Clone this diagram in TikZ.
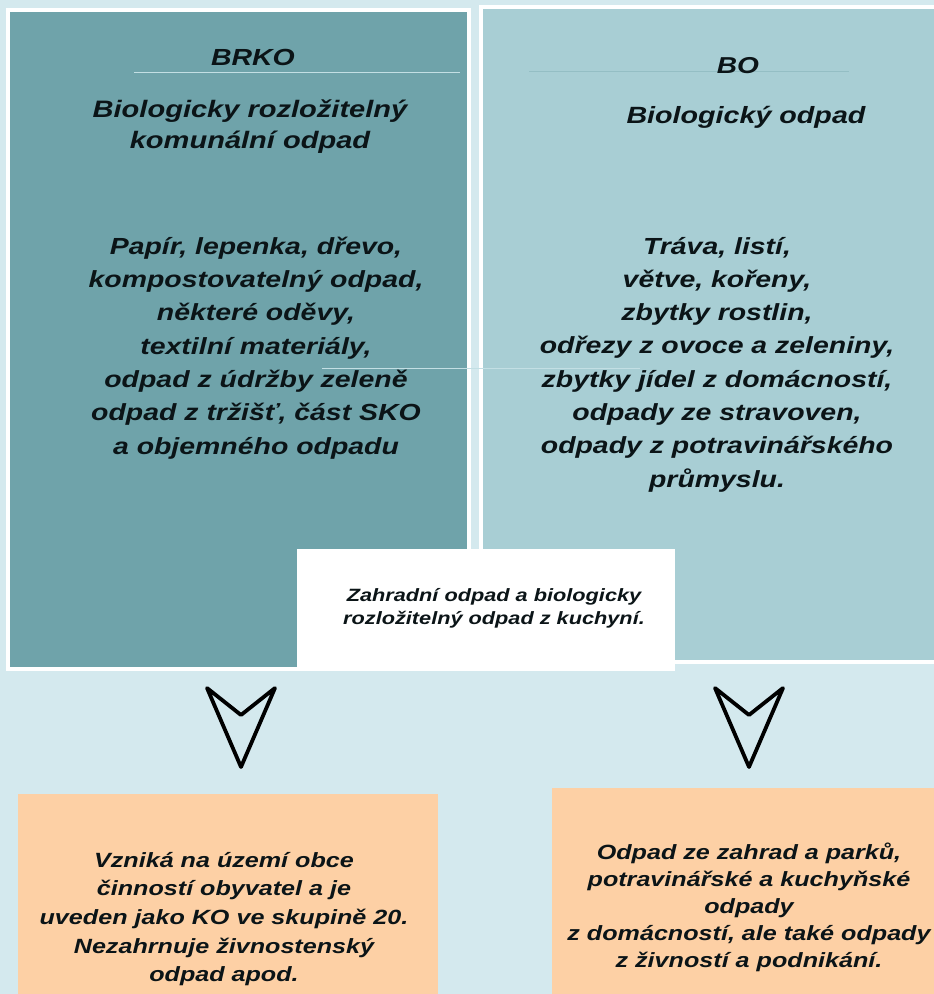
\documentclass[tikz,border=0pt]{standalone}
\usepackage{fontspec}
\setmainfont[FakeStretch=1.22]{Liberation Sans}
\definecolor{bg}{HTML}{D4E9EE}
\definecolor{teal}{HTML}{6FA3AA}
\definecolor{lightteal}{HTML}{A8CED4}
\definecolor{peach}{HTML}{FDD0A5}
\definecolor{ink}{HTML}{0B1417}
\definecolor{rule}{HTML}{C3DFE4}
\definecolor{rulealt}{HTML}{94BEC4}
\tikzset{
  panel/.style={draw=white, line width=4pt},
  txt/.style={text=ink, align=center, inner sep=0pt, font=\bfseries\itshape},
  chevron/.style={draw=black, line width=3.8pt, line join=round},
}
\begin{document}
\begin{tikzpicture}[x=1pt,y=-1pt]
\useasboundingbox (0,0) rectangle (934,994);
\clip (0,0) rectangle (934,994);
\fill[bg] (0,0) rectangle (934,994);
% panels
\draw[panel, fill=teal] (8,10) rectangle (469,669);
\draw[panel, fill=lightteal] (481,7) rectangle (945,662);
\node[fill=white, minimum width=378pt, minimum height=122pt, inner sep=0pt] (mid) at (486,610) {};
\node[fill=peach, minimum width=420pt, minimum height=210pt, inner sep=0pt, anchor=north west] (bl) at (18,794) {};
\node[fill=peach, minimum width=400pt, minimum height=220pt, inner sep=0pt, anchor=north west] (br) at (552,788) {};
% rules
\draw[rule, line width=1pt] (134,72) -- (460,72);
\draw[rulealt, line width=0.8pt] (529,71) -- (849,71);
\draw[rule, line width=1pt] (322,368) -- (640,368);
% top texts
\node[txt, font=\fontsize{23.3}{25}\selectfont\bfseries\itshape] (brko) at (253,57) {BRKO};
\node[txt, font=\fontsize{23.8}{31}\selectfont\bfseries\itshape] (brkodef) at (250,127) {Biologicky rozložitelný\\komunální odpad};
\node[txt, font=\fontsize{23}{25}\selectfont\bfseries\itshape] (bo) at (738,66) {BO};
\node[txt, font=\fontsize{23.5}{25}\selectfont\bfseries\itshape] (bodef) at (746,117) {Biologický odpad};
% body texts
\node[txt, font=\fontsize{23.3}{33.3}\selectfont\bfseries\itshape] (brkobody) at (256,348)
 {Papír, lepenka, dřevo,\\kompostovatelný odpad,\\některé oděvy,\\textilní materiály,\\odpad z údržby zeleně\\odpad z tržišť, část SKO\\a objemného odpadu};
\node[txt, font=\fontsize{23.3}{33.3}\selectfont\bfseries\itshape] (bobody) at (717,364.5)
 {Tráva, listí,\\větve, kořeny,\\zbytky rostlin,\\odřezy z ovoce a zeleniny,\\zbytky jídel z domácností,\\odpady ze stravoven,\\odpady z potravinářského\\průmyslu.};
% middle text
\node[txt, font=\fontsize{17.8}{23}\selectfont\bfseries\itshape] (midtxt) at (494,608.5)
 {Zahradní odpad a biologicky\\rozložitelný odpad z kuchyní.};
% arrows
\coordinate (la) at (241,688);
\coordinate (ra) at (749,688);
\draw[chevron] (la) ++(-34,0) -- ++(34,27) -- ++(34,-27) -- ++(-34,79) -- cycle;
\draw[chevron] (ra) ++(-34,0) -- ++(34,27) -- ++(34,-27) -- ++(-34,79) -- cycle;
% bottom texts
\node[txt, font=\fontsize{20.6}{28.7}\selectfont\bfseries\itshape] (bltxt) at (224,919)
 {Vzniká na území obce\\činností obyvatel a je\\uveden jako KO ve skupině 20.\\Nezahrnuje živnostenský\\odpad apod.};
\node[txt, font=\fontsize{20.6}{27}\selectfont\bfseries\itshape] (brtxt) at (749,907.5)
 {Odpad ze zahrad a parků,\\potravinářské a kuchyňské\\odpady\\z domácností, ale také odpady\\z živností a podnikání.};
\end{tikzpicture}
\end{document}
